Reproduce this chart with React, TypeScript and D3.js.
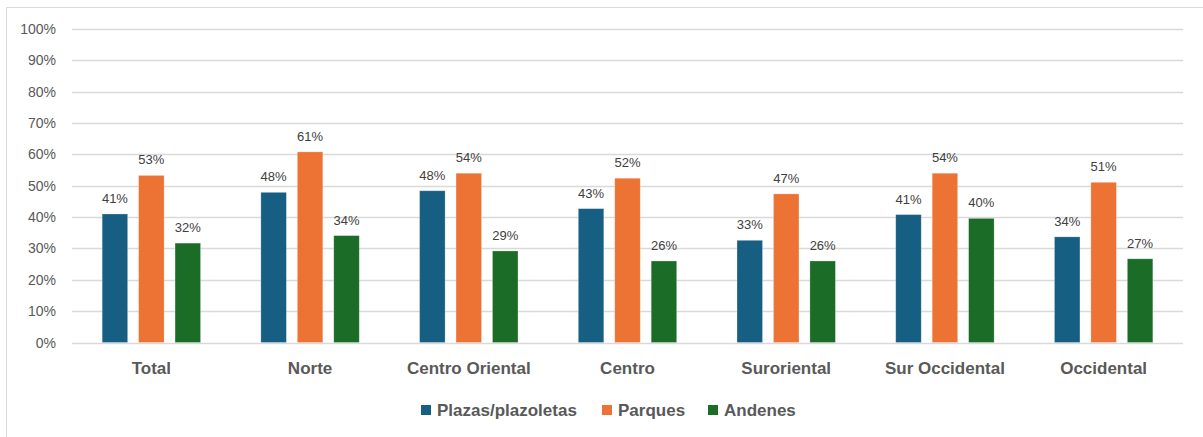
import * as d3 from "d3";
import { useEffect, useRef } from "react";

const categories = ["Total", "Norte", "Centro Oriental", "Centro", "Suroriental", "Sur Occidental", "Occidental"];
const seriesNames = ["Plazas/plazoletas", "Parques", "Andenes"];
const plazas = [41.0, 47.9, 48.4, 42.7, 32.6, 40.8, 33.7];
const parques = [53.3, 60.8, 54.0, 52.4, 47.4, 54.0, 51.1];
const andenes = [31.7, 34.1, 29.2, 26.0, 26.0, 39.6, 26.7];
const yTicks = [0, 10, 20, 30, 40, 50, 60, 70, 80, 90, 100];
const colors = ["#175f82", "#ec7333", "#1b6c26"];

const App = () => {
  const ref = useRef<SVGSVGElement>(null);

  useEffect(() => {
    const svg = d3.select(ref.current);
    svg.selectAll("*").remove();
    const width = 1203;
    const height = 437;
    const margin = { top: 29, right: 20, bottom: 95, left: 72 };
    const series = [plazas, parques, andenes];
    const font = "Arial, 'Liberation Sans', sans-serif";

    // outer frame
    svg
      .append("rect")
      .attr("x", 6.5)
      .attr("y", 7.5)
      .attr("width", width)
      .attr("height", height)
      .attr("fill", "#fff")
      .attr("stroke", "#d9d9d9");

    const x = d3
      .scaleBand()
      .domain(categories)
      .range([margin.left, 1183])
      .paddingInner(0.38)
      .paddingOuter(0.19);

    const xs = d3
      .scaleBand()
      .domain(seriesNames)
      .range([0, x.bandwidth()])
      .paddingInner(0.3);

    const y = d3.scaleLinear().domain([0, 100]).range([342.5, margin.top]);

    // gridlines
    svg
      .append("g")
      .selectAll("line")
      .data(yTicks)
      .join("line")
      .attr("x1", margin.left)
      .attr("x2", 1183)
      .attr("y1", (d) => Math.round(y(d)) + 0.5)
      .attr("y2", (d) => Math.round(y(d)) + 0.5)
      .attr("stroke", "#d9d9d9")
      .attr("stroke-width", 1.3);

    // y labels
    svg
      .append("g")
      .selectAll("text")
      .data(yTicks)
      .join("text")
      .attr("x", 56)
      .attr("y", (d) => y(d) + 5)
      .attr("text-anchor", "end")
      .attr("font-family", font)
      .attr("font-size", 14)
      .attr("fill", "#595959")
      .text((d) => `${d}%`);

    // bars
    const groups = svg
      .append("g")
      .selectAll("g")
      .data(categories)
      .join("g")
      .attr("transform", (d) => `translate(${x(d)},0)`);

    seriesNames.forEach((name, si) => {
      groups
        .append("rect")
        .attr("x", xs(name)!)
        .attr("width", xs.bandwidth())
        .attr("y", (_, i) => y(series[si][i]))
        .attr("height", (_, i) => y(0) - y(series[si][i]))
        .attr("fill", colors[si])
        .attr("stroke", "#ffffff")
        .attr("stroke-opacity", 0.35)
        .attr("stroke-width", 0.75);

      groups
        .append("text")
        .attr("x", xs(name)! + xs.bandwidth() / 2)
        .attr("y", (_, i) => y(series[si][i]) - 11)
        .attr("text-anchor", "middle")
        .attr("font-family", font)
        .attr("font-size", 13)
        .attr("fill", "#404040")
        .text((_, i) => `${Math.round(series[si][i])}%`);
    });

    // category labels
    svg
      .append("g")
      .selectAll("text")
      .data(categories)
      .join("text")
      .attr("x", (d) => x(d)! + x.bandwidth() / 2)
      .attr("y", 374)
      .attr("text-anchor", "middle")
      .attr("font-family", font)
      .attr("font-size", 17)
      .attr("font-weight", "bold")
      .attr("fill", "#595959")
      .text((d) => d);

    // legend
    const legendX = [421, 602, 708];
    const legend = svg
      .append("g")
      .selectAll("g")
      .data(seriesNames)
      .join("g")
      .attr("transform", (_, i) => `translate(${legendX[i]},405)`);
    legend
      .append("rect")
      .attr("width", 10)
      .attr("height", 10)
      .attr("fill", (_, i) => colors[i]);
    legend
      .append("text")
      .attr("x", 16)
      .attr("y", 11)
      .attr("font-family", font)
      .attr("font-size", 17)
      .attr("font-weight", "bold")
      .attr("fill", "#595959")
      .text((d) => d);
  }, []);

  return (
    <svg
      ref={ref}
      width={1203}
      height={437}
      style={{ position: "absolute", left: 0, top: 0, background: "#fff" }}
    />
  );
};

export default App;
